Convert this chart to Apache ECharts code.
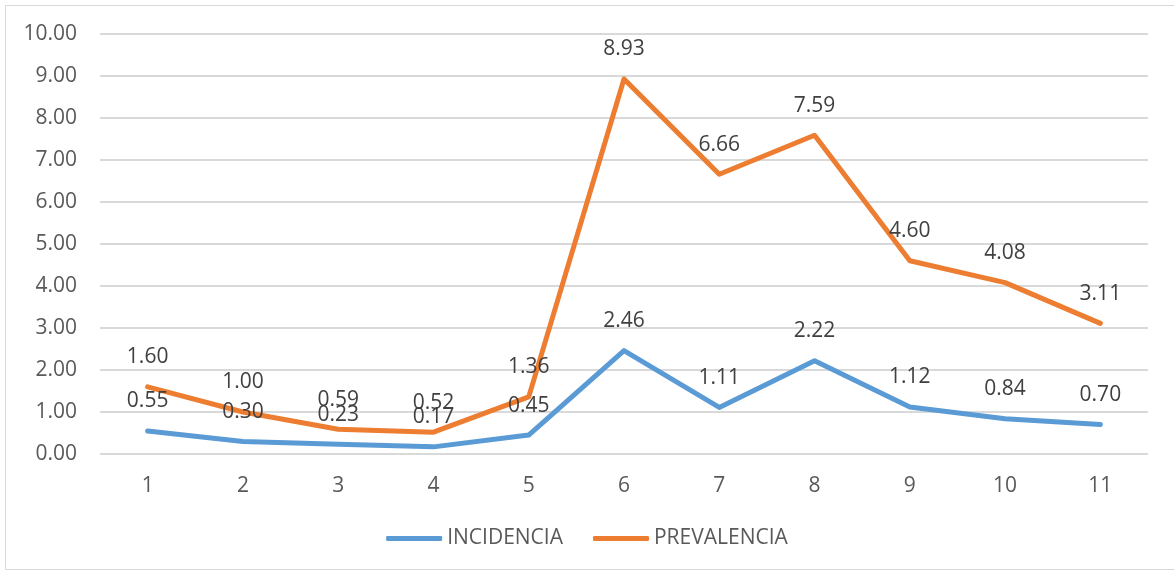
<!DOCTYPE html>
<html>
<head>
<meta charset="utf-8">
<script src="https://cdn.jsdelivr.net/npm/echarts@6/dist/echarts.min.js"></script>
<style>
  html, body { margin: 0; padding: 0; background: #fff; }
  #chart { width: 1174px; height: 573px; }
</style>
</head>
<body>
<div id="chart"></div>
<script>
var categories = ['1', '2', '3', '4', '5', '6', '7', '8', '9', '10', '11'];
var incidencia = [0.55, 0.30, 0.23, 0.17, 0.45, 2.46, 1.11, 2.22, 1.12, 0.84, 0.70];
var prevalencia = [1.60, 1.00, 0.59, 0.52, 1.36, 8.93, 6.66, 7.59, 4.60, 4.08, 3.11];

var chart = echarts.init(document.getElementById('chart'), null, { renderer: 'canvas' });

var font = '"Open Sans", "Liberation Sans", sans-serif';

function fmt(p) {
  var v = Array.isArray(p.value) ? p.value[1] : p.value;
  return Number(v).toFixed(2);
}

function lineSeries(name, data, color) {
  return {
    name: name,
    type: 'line',
    data: data,
    symbol: 'circle',
    symbolSize: 0.01,
    showSymbol: true,
    smooth: false,
    lineStyle: { color: color, width: 5, cap: 'round', join: 'round' },
    itemStyle: { color: color },
    label: {
      show: true,
      position: 'top',
      distance: 19,
      color: '#404040',
      fontSize: 21,
      fontFamily: font,
      formatter: fmt
    },
    animation: false
  };
}

var option = {
  backgroundColor: '#fff',
  grid: { left: 100, right: 26, top: 34, bottom: 119 },
  graphic: [{
    type: 'rect',
    shape: { x: 5.5, y: 5.5, width: 1180, height: 564 },
    style: { fill: 'none', stroke: '#d9d9d9', lineWidth: 1 },
    silent: true
  }],
  xAxis: {
    type: 'category',
    data: categories,
    boundaryGap: true,
    axisLine: { show: false },
    axisTick: { show: false },
    axisLabel: { color: '#595959', fontSize: 21, fontFamily: font, margin: 22 }
  },
  yAxis: {
    type: 'value',
    min: 0,
    max: 10,
    interval: 1,
    axisLine: { show: false },
    axisTick: { show: false },
    splitLine: { lineStyle: { color: '#d9d9d9', width: 2 } },
    axisLabel: {
      color: '#595959', fontSize: 21, fontFamily: font, margin: 23,
      formatter: function (v) { return Number(v).toFixed(2); }
    }
  },
  legend: {
    bottom: 19,
    left: 'center',
    itemWidth: 56,
    itemHeight: 5,
    itemGap: 30,
    icon: 'roundRect',
    textStyle: { color: '#595959', fontSize: 21, fontFamily: font },
    data: ['INCIDENCIA', 'PREVALENCIA']
  },
  series: [
    lineSeries('INCIDENCIA', incidencia, '#5B9BD5'),
    lineSeries('PREVALENCIA', prevalencia, '#ED7D31')
  ]
};

chart.setOption(option);
window.addEventListener('resize', chart.resize);
</script>
</body>
</html>
